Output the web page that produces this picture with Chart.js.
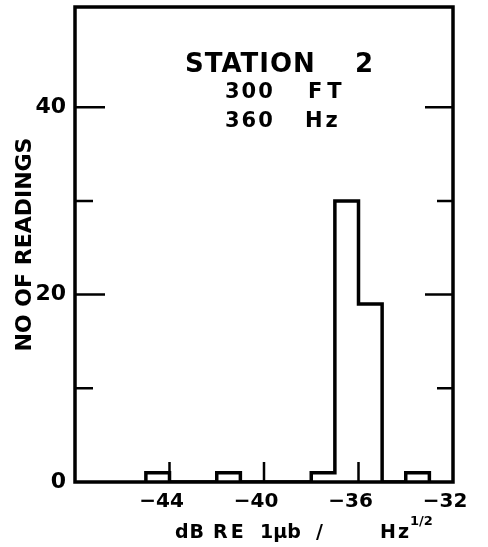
<!DOCTYPE html>
<html>
<head>
<meta charset="utf-8">
<script src="https://cdn.jsdelivr.net/npm/chart.js@4"></script>
<style>
  html, body { margin: 0; padding: 0; background: #fff; }
  canvas { display: block; }
</style>
</head>
<body>
<canvas id="myChart" width="488" height="547"></canvas>
<script>
// histogram bins (dB RE 1 ubar / Hz^1/2), 1 dB wide
var binStarts = [-45, -42, -38, -37, -36, -34];
var counts = [1, 1, 1, 30, 19, 1];
var binWidth = 1;

// axis ticks
var xTickLabels = [-44, -40, -36, -32];
var yTickLabels = [0, 20, 40];
var yMinorTicks = [10, 30];

// text
var yTitle = 'NO OF READINGS';
var noteLines = ['STATION 2', '300 FT', '360 Hz'];

// step outline of the histogram, built from the bins
function buildOutline() {
    var pts = [];
    for (var i = 0; i < binStarts.length; i++) {
        var s = binStarts[i], e = s + binWidth;
        if (i === 0 || binStarts[i - 1] + binWidth !== s) pts.push({x: s, y: 0});
        pts.push({x: s, y: counts[i]});
        pts.push({x: e, y: counts[i]});
        if (i === binStarts.length - 1 || binStarts[i + 1] !== e) pts.push({x: e, y: 0});
    }
    return pts;
}

var FONT = '"DejaVu Sans", sans-serif';

function put(ctx, s, x, y, size, spacing) {
    ctx.font = 'bold ' + size + 'px ' + FONT;
    ctx.letterSpacing = (spacing || 0) + 'px';
    ctx.fillText(s, x, y);
}

var framePlugin = {
    id: 'frame',
    afterDraw: function(chart) {
        var ctx = chart.ctx, a = chart.chartArea;
        var xs = chart.scales.x, ys = chart.scales.y;
        ctx.save();
        ctx.strokeStyle = '#000';
        ctx.fillStyle = '#000';

        // inward ticks
        ctx.lineWidth = 2.5;
        ctx.beginPath();
        xTickLabels.forEach(function(v) {
            if (v >= xs.max) return;
            var px = xs.getPixelForValue(v);
            ctx.moveTo(px, a.bottom);
            ctx.lineTo(px, a.bottom - 20);
        });
        yTickLabels.concat(yMinorTicks).forEach(function(v) {
            if (v <= 0) return;
            var len = yMinorTicks.indexOf(v) >= 0 ? 18 : 30;
            var py = ys.getPixelForValue(v);
            ctx.moveTo(a.left, py);
            ctx.lineTo(a.left + len, py);
            ctx.moveTo(a.right, py);
            ctx.lineTo(a.right - len + 2, py);
        });
        ctx.stroke();

        // frame
        ctx.lineWidth = 3.5;
        ctx.strokeRect(a.left, a.top, a.right - a.left, a.bottom - a.top);

        // note in the plot
        ctx.textAlign = 'left';
        ctx.textBaseline = 'alphabetic';
        var l1 = noteLines[0].split(' '), l2 = noteLines[1].split(' '), l3 = noteLines[2].split(' ');
        put(ctx, l1[0], 185, 72, 26, 1);
        put(ctx, l1[1], 355, 72, 26, 0);
        put(ctx, l2[0], 225, 98, 21, 2);
        put(ctx, l2[1], 308, 98, 21, 5);
        put(ctx, l3[0], 225, 127, 21, 2);
        put(ctx, l3[1], 305, 127, 21, 3);

        // x axis title with superscript
        put(ctx, 'dB', 175, 538, 19, 1);
        put(ctx, 'RE', 213, 538, 19, 3);
        put(ctx, '1\u03bcb', 260, 538, 19, 0);
        put(ctx, '/', 316, 538, 19, 0);
        put(ctx, 'Hz', 380, 538, 19, 2);
        put(ctx, '1/2', 410, 525, 13, 0);
        ctx.restore();
    }
};

var ctx = document.getElementById('myChart').getContext('2d');
var chart = new Chart(ctx, {
    type: 'line',
    data: {
        datasets: [{
            data: buildOutline(),
            borderColor: '#000',
            borderWidth: 3.5,
            pointRadius: 0,
            tension: 0,
            fill: false,
            borderJoinStyle: 'miter',
            borderCapStyle: 'square'
        }]
    },
    options: {
        responsive: false,
        devicePixelRatio: 1,
        animation: false,
        layout: { padding: { top: 7, right: 35, left: 0, bottom: 0 } },
        plugins: { legend: { display: false }, tooltip: { enabled: false } },
        scales: {
            x: {
                type: 'linear',
                min: -48,
                max: -32,
                afterFit: function(s) {
                    s.height = 65;
                    s.paddingLeft = 0;
                    s.paddingRight = 0;
                },
                grid: { display: false, drawTicks: false },
                border: { display: false },
                ticks: {
                    stepSize: 4,
                    autoSkip: false,
                    maxRotation: 0,
                    padding: 8,
                    labelOffset: -8,
                    color: '#000',
                    font: { family: FONT, size: 20, weight: 'bold' },
                    callback: function(v) {
                        return xTickLabels.indexOf(v) >= 0 ? '\u2212' + Math.abs(v) : '';
                    }
                }
            },
            y: {
                min: 0,
                max: 50.7,
                afterFit: function(s) {
                    s.width = 75;
                    s.paddingTop = 0;
                    s.paddingBottom = 0;
                },
                grid: { display: false, drawTicks: false },
                border: { display: false },
                title: {
                    display: true,
                    text: yTitle,
                    color: '#000',
                    font: { family: FONT, size: 22, weight: 'bold' },
                    padding: { top: 12, bottom: 0 }
                },
                ticks: {
                    stepSize: 10,
                    autoSkip: false,
                    padding: 9,
                    color: '#000',
                    font: { family: FONT, size: 22, weight: 'bold' },
                    callback: function(v) {
                        return yTickLabels.indexOf(v) >= 0 ? String(v) : '';
                    }
                }
            }
        }
    },
    plugins: [framePlugin]
});
</script>
</body>
</html>
